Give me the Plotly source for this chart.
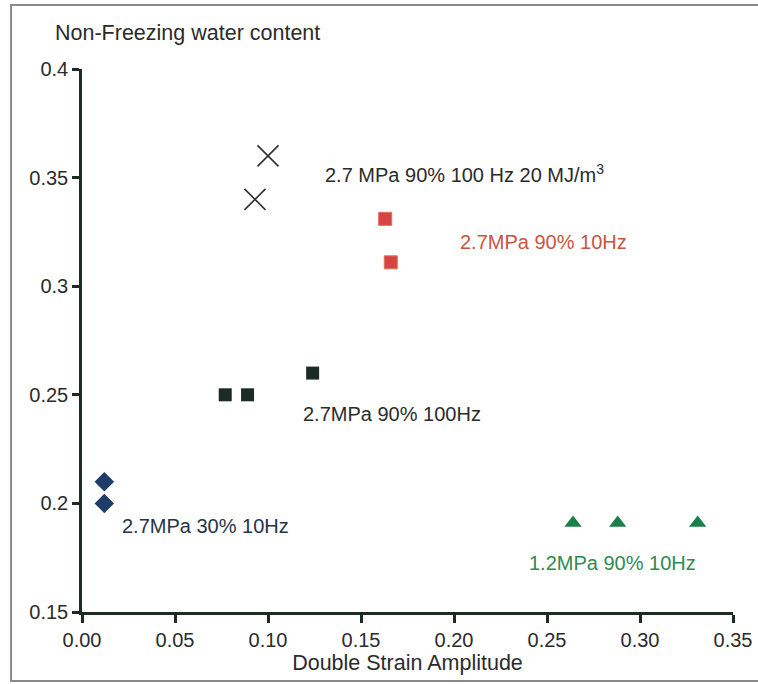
import plotly.graph_objects as go

# Data
cross_x = [0.100, 0.093]
cross_y = [0.360, 0.340]
red_x = [0.163, 0.166]
red_y = [0.331, 0.311]
dark_x = [0.077, 0.089, 0.124]
dark_y = [0.250, 0.250, 0.260]
diam_x = [0.012, 0.012]
diam_y = [0.210, 0.200]
tri_x = [0.264, 0.288, 0.331]
tri_y = [0.191, 0.191, 0.191]

series_labels = [
    "2.7 MPa 90% 100 Hz 20 MJ/m<sup>3</sup>",
    "2.7MPa 90% 10Hz",
    "2.7MPa 90% 100Hz",
    "2.7MPa 30% 10Hz",
    "1.2MPa 90% 10Hz",
]
label_x = [0.1295, 0.202, 0.118, 0.0205, 0.239]
label_y = [0.352, 0.3203, 0.241, 0.1896, 0.1726]
label_colors = ["#2b2b2b", "#c8553f", "#2b2b2b", "#253447", "#2e8b50"]

x_ticks = [0.00, 0.05, 0.10, 0.15, 0.20, 0.25, 0.30, 0.35]
y_ticks = [0.15, 0.2, 0.25, 0.3, 0.35, 0.4]

FONT = "Liberation Sans, Arial, sans-serif"
TXT = 20
TITLE = 21.5

fig = go.Figure()
fig.add_trace(go.Scatter(x=cross_x, y=cross_y, mode="markers",
                         marker=dict(symbol="x-thin-open", size=21, color="#2f2f2f",
                                     line=dict(color="#2f2f2f", width=1.6))))
fig.add_trace(go.Scatter(x=red_x, y=red_y, mode="markers",
                         marker=dict(symbol="square", size=13, color="#d64545",
                                     line=dict(color="#e07050", width=1))))
fig.add_trace(go.Scatter(x=dark_x, y=dark_y, mode="markers",
                         marker=dict(symbol="square", size=13, color="#1c2b26",
                                     line=dict(width=0))))
fig.add_trace(go.Scatter(x=diam_x, y=diam_y, mode="markers",
                         marker=dict(symbol="diamond", size=15, color="#1f3d68",
                                     line=dict(width=0))))
fig.add_trace(go.Scatter(x=tri_x, y=tri_y, mode="markers",
                         marker=dict(symbol="triangle-up", size=15, color="#1a8048",
                                     line=dict(width=0))))

for t, lx, ly, c in zip(series_labels, label_x, label_y, label_colors):
    fig.add_annotation(x=lx, y=ly, text=t, showarrow=False, xanchor="left",
                       yanchor="middle", font=dict(size=TXT, color=c, family=FONT))

fig.add_annotation(xref="paper", yref="paper", x=-0.0445, y=1.066,
                   text="Non-Freezing water content", showarrow=False,
                   xanchor="left", yanchor="middle",
                   font=dict(size=TITLE, color="#2b2b2b", family=FONT))

# scan frame
fig.add_shape(type="rect", xref="paper", yref="paper",
              x0=-0.109, x1=1.2, y0=-0.127, y1=1.118,
              line=dict(color="#8a8a8a", width=2), layer="below")

fig.update_xaxes(range=[0, 0.35], tickvals=x_ticks, tickformat=".2f",
                 showgrid=False, zeroline=False, showline=True,
                 linecolor="#1e2a24", linewidth=2.5, ticks="outside",
                 ticklen=8, tickwidth=2.5, tickcolor="#1e2a24",
                 tickfont=dict(size=TXT, color="#2b2b2b", family=FONT),
                 title=dict(text="Double Strain Amplitude", standoff=5,
                            font=dict(size=TITLE, color="#2b2b2b", family=FONT)))
fig.update_yaxes(range=[0.15, 0.4], tickvals=y_ticks,
                 showgrid=False, zeroline=False, showline=True,
                 linecolor="#1e2a24", linewidth=2.5, ticks="outside",
                 ticklen=7, tickwidth=2.5, tickcolor="#1e2a24",
                 tickfont=dict(size=TXT, color="#2b2b2b", family=FONT))

fig.update_layout(width=758, height=684, showlegend=False,
                  plot_bgcolor="white", paper_bgcolor="white",
                  margin=dict(l=82, r=25, t=69, b=72, autoexpand=False),
                  font=dict(family=FONT))

fig.write_html("out.html", config={"displayModeBar": False},
               post_script="document.body.style.margin='0';document.body.style.overflow='hidden';")
